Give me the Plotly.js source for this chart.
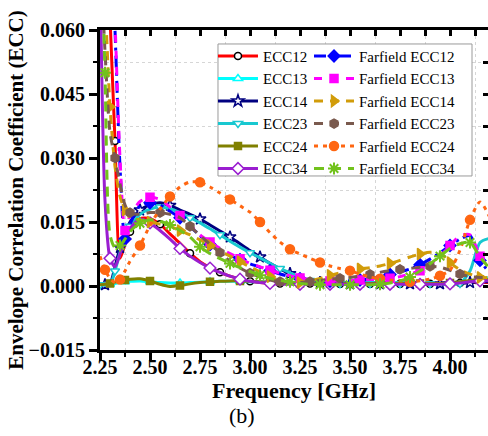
<!DOCTYPE html>
<html><head><meta charset="utf-8">
<script src="https://cdn.plot.ly/plotly-3.0.1.min.js"></script>
<style>html,body{margin:0;padding:0;background:#fff}#chart{width:488px;height:436px}</style>
</head><body><div id="chart"></div>
<script>
// ---- data ----
const freq = [2.25, 2.275, 2.30, 2.325, 2.35, 2.375, 2.40, 2.45, 2.50, 2.55, 2.60, 2.65, 2.70, 2.75, 2.80, 2.85, 2.90, 2.95, 3.00, 3.05, 3.10, 3.15, 3.20, 3.25, 3.30, 3.35, 3.40, 3.45, 3.50, 3.55, 3.60, 3.65, 3.70, 3.75, 3.80, 3.85, 3.90, 3.95, 4.00, 4.05, 4.10, 4.15, 4.20];

const ecc12 = [0.120, 0.095, 0.063, 0.034, 0.0065, 0.0098, 0.0127, 0.0158, 0.0158, 0.0145, 0.0122, 0.0100, 0.0077, 0.0057, 0.0043, 0.0032, 0.0023, 0.0016, 0.0011, 0.0008, 0.0007, 0.0006, 0.0006, 0.0006, 0.0006, 0.0005, 0.0005, 0.0005, 0.0005, 0.0005, 0.0005, 0.0005, 0.0005, 0.0005, 0.0005, 0.0005, 0.0005, 0.0006, 0.0006, 0.0007, 0.0008, 0.0008, 0.0008];
const ecc13 = [0.0003, 0.0003, 0.0004, 0.0006, 0.0008, 0.0010, 0.0011, 0.0012, 0.0010, 0.0008, 0.0007, 0.0007, 0.0008, 0.0009, 0.0010, 0.0011, 0.0011, 0.0011, 0.0010, 0.0010, 0.0009, 0.0008, 0.0008, 0.0007, 0.0007, 0.0006, 0.0006, 0.0006, 0.0006, 0.0006, 0.0006, 0.0006, 0.0006, 0.0006, 0.0006, 0.0006, 0.0006, 0.0006, 0.0006, 0.0007, 0.0010, 0.0015, 0.0020];
const ecc14 = [0.0004, 0.0003, 0.0005, 0.0045, 0.0090, 0.0125, 0.0150, 0.0178, 0.0190, 0.0195, 0.0189, 0.0178, 0.0168, 0.0157, 0.0143, 0.0129, 0.0115, 0.0099, 0.0083, 0.0068, 0.0053, 0.0040, 0.0029, 0.0019, 0.0012, 0.0008, 0.0006, 0.0005, 0.0005, 0.0005, 0.0005, 0.0005, 0.0005, 0.0005, 0.0005, 0.0005, 0.0005, 0.0005, 0.0005, 0.0006, 0.0008, 0.0010, 0.0010];
const ecc23 = [0.0003, 0.0002, 0.0002, 0.0035, 0.0078, 0.0112, 0.0140, 0.0168, 0.0180, 0.0185, 0.0181, 0.0172, 0.0160, 0.0148, 0.0134, 0.0120, 0.0105, 0.0091, 0.0078, 0.0066, 0.0053, 0.0041, 0.0031, 0.0021, 0.0013, 0.0008, 0.0006, 0.0005, 0.0005, 0.0005, 0.0005, 0.0005, 0.0005, 0.0005, 0.0005, 0.0005, 0.0005, 0.0005, 0.0005, 0.0006, 0.0035, 0.0102, 0.0112];
const ecc24 = [0.0003, 0.0004, 0.0006, 0.0009, 0.0012, 0.0014, 0.0016, 0.0017, 0.0012, 0.0004, -0.0001, 0.0001, 0.0005, 0.0008, 0.0010, 0.0011, 0.0012, 0.0012, 0.0011, 0.0010, 0.0009, 0.0008, 0.0007, 0.0006, 0.0006, 0.0006, 0.0006, 0.0006, 0.0006, 0.0006, 0.0006, 0.0006, 0.0006, 0.0006, 0.0006, 0.0006, 0.0006, 0.0006, 0.0007, 0.0010, 0.0013, 0.0015, 0.0015];
const ecc34 = [0.075, 0.020, 0.0065, 0.0045, 0.0075, 0.0110, 0.0135, 0.0157, 0.0148, 0.0130, 0.0110, 0.0088, 0.0070, 0.0055, 0.0042, 0.0032, 0.0023, 0.0016, 0.0011, 0.0008, 0.0006, 0.0004, 0.0004, 0.0004, 0.0004, 0.0004, 0.0004, 0.0004, 0.0004, 0.0004, 0.0004, 0.0004, 0.0004, 0.0004, 0.0004, 0.0004, 0.0004, 0.0004, 0.0005, 0.0007, 0.0010, 0.0012, 0.0012];

const ffEcc12 = [0.130, 0.115, 0.090, 0.060, 0.028, 0.011, 0.0145, 0.0188, 0.0195, 0.0190, 0.0175, 0.0160, 0.0140, 0.0118, 0.0097, 0.0083, 0.0072, 0.0062, 0.0052, 0.0044, 0.0036, 0.0028, 0.0022, 0.0017, 0.0014, 0.0012, 0.0011, 0.0011, 0.0012, 0.0014, 0.0017, 0.0021, 0.0027, 0.0033, 0.0040, 0.0050, 0.0063, 0.0078, 0.0095, 0.0110, 0.0118, 0.0060, 0.0030];
const ffEcc13 = [0.130, 0.115, 0.092, 0.062, 0.030, 0.013, 0.0165, 0.0198, 0.0208, 0.0203, 0.0185, 0.0165, 0.0143, 0.0120, 0.0103, 0.0088, 0.0076, 0.0064, 0.0053, 0.0045, 0.0037, 0.0030, 0.0024, 0.0019, 0.0015, 0.0013, 0.0012, 0.0012, 0.0013, 0.0014, 0.0015, 0.0016, 0.0018, 0.0022, 0.0028, 0.0036, 0.0050, 0.0069, 0.0095, 0.0118, 0.0120, 0.0070, 0.0040];
const ffEcc14 = [0.100, 0.068, 0.042, 0.028, 0.021, 0.0178, 0.0160, 0.0155, 0.0150, 0.0145, 0.0140, 0.0130, 0.0120, 0.0108, 0.0095, 0.0082, 0.0070, 0.0057, 0.0045, 0.0033, 0.0022, 0.0013, 0.0008, 0.0008, 0.0012, 0.0018, 0.0025, 0.0031, 0.0036, 0.0040, 0.0043, 0.0047, 0.0053, 0.0060, 0.0068, 0.0075, 0.0079, 0.0078, 0.0055, 0.0038, 0.0028, 0.0020, 0.0020];
const ffEcc23 = [0.080, 0.055, 0.036, 0.030, 0.024, 0.0190, 0.0172, 0.0168, 0.0172, 0.0172, 0.0168, 0.0160, 0.0140, 0.0118, 0.0098, 0.0078, 0.0058, 0.0042, 0.0030, 0.0021, 0.0014, 0.0010, 0.0008, 0.0008, 0.0010, 0.0013, 0.0016, 0.0018, 0.0020, 0.0023, 0.0027, 0.0032, 0.0036, 0.0039, 0.0041, 0.0044, 0.0046, 0.0044, 0.0037, 0.0028, 0.0022, 0.0020, 0.0020];
const ffEcc24 = [0.0070, 0.0038, 0.0018, 0.0008, 0.0015, 0.0035, 0.0058, 0.0095, 0.0142, 0.0180, 0.0210, 0.0232, 0.0244, 0.0243, 0.0232, 0.0218, 0.0203, 0.0188, 0.0173, 0.0150, 0.0125, 0.0103, 0.0086, 0.0075, 0.0065, 0.0055, 0.0047, 0.0041, 0.0036, 0.0028, 0.0021, 0.0017, 0.0014, 0.0012, 0.0010, 0.0012, 0.0016, 0.0024, 0.0037, 0.0084, 0.0155, 0.0197, 0.0160];
const ffEcc34 = [0.095, 0.050, 0.012, 0.0090, 0.0095, 0.0110, 0.0128, 0.0147, 0.0155, 0.0152, 0.0143, 0.0130, 0.0115, 0.0092, 0.0076, 0.0064, 0.0053, 0.0043, 0.0034, 0.0025, 0.0018, 0.0013, 0.0010, 0.0006, 0.0004, 0.0003, 0.0003, 0.0003, 0.0003, 0.0003, 0.0003, 0.0004, 0.0007, 0.0012, 0.0021, 0.0035, 0.0052, 0.0070, 0.0088, 0.0099, 0.0102, 0.0068, 0.0040];

const seriesNames = ['ECC12', 'ECC13', 'ECC14', 'ECC23', 'ECC24', 'ECC34',
  'Farfield ECC12', 'Farfield ECC13', 'Farfield ECC14', 'Farfield ECC23', 'Farfield ECC24', 'Farfield ECC34'];
const seriesValues = [ecc12, ecc13, ecc14, ecc23, ecc24, ecc34, ffEcc12, ffEcc13, ffEcc14, ffEcc23, ffEcc24, ffEcc34];

// ---- styles ----
const SERIF = 'Liberation Serif';
const styles = [
  {color: '#FF0000', dash: 'solid', symbol: 'circle', fill: '#FFFFFF', mline: '#000000', size: 7},
  {color: '#00FFFF', dash: 'solid', symbol: 'triangle-up', fill: '#FFFFFF', mline: '#00FFFF', size: 8},
  {color: '#000080', dash: 'solid', symbol: 'star', fill: '#FFFFFF', mline: '#000080', size: 9},
  {color: '#18C8D0', dash: 'solid', symbol: 'triangle-down', fill: '#FFFFFF', mline: '#18C8D0', size: 8},
  {color: '#808000', dash: 'solid', symbol: 'square', fill: '#808000', mline: '#808000', size: 7},
  {color: '#9A1ED0', dash: 'solid', symbol: 'diamond', fill: '#FFFFFF', mline: '#9A1ED0', size: 9},
  {color: '#0000FF', dash: '12px,5px,3px,5px', symbol: 'diamond', fill: '#0000FF', mline: '#0000FF', size: 9},
  {color: '#FF00FF', dash: '8px,8px', symbol: 'square', fill: '#FF00FF', mline: '#FF00FF', size: 8},
  {color: '#D19C0A', dash: '9px,7px', symbol: 'triangle-right', fill: '#D19C0A', mline: '#D19C0A', size: 10},
  {color: '#7A5A4E', dash: '9px,7px', symbol: 'hexagon', fill: '#7A5A4E', mline: '#7A5A4E', size: 9},
  {color: '#FF6611', dash: '4px,5px', symbol: 'circle', fill: '#FF6611', mline: '#FF6611', size: 9},
  {color: '#72C21C', dash: '10px,7px', symbol: 'asterisk-open', fill: '#72C21C', mline: '#72C21C', size: 10}
];

const traces = seriesNames.map((name, i) => {
  const s = styles[i];
  return {
    type: 'scatter', mode: 'lines+markers', name: name,
    x: freq, y: seriesValues[i],
    legend: i < 6 ? 'legend' : 'legend2',
    line: {color: s.color, width: 3, dash: s.dash, shape: 'spline', smoothing: 0.7},
    marker: {symbol: s.symbol, size: s.size, color: s.fill, maxdisplayed: 14,
             line: {color: s.mline, width: s.symbol === 'asterisk-open' ? 2 : 1.5}},
    hoverinfo: 'x+y+name'
  };
});
// helper traces (no data) binding the top / right tick axes
traces.push({type: 'scatter', x: [], y: [], xaxis: 'x2', yaxis: 'y', showlegend: false, hoverinfo: 'skip'});
traces.push({type: 'scatter', x: [], y: [], xaxis: 'x', yaxis: 'y2', showlegend: false, hoverinfo: 'skip'});

const xRange = [2.25, 4.19];
const yRange = [-0.015, 0.060];
const tickFont = {family: SERIF, size: 20, color: '#000', weight: 'bold'};

const layout = {
  width: 488, height: 436,
  margin: {l: 100, r: 0, t: 30, b: 86},
  paper_bgcolor: '#FFFFFF', plot_bgcolor: '#FFFFFF',
  font: {family: SERIF, color: '#000'},
  showlegend: true,
  xaxis: {
    range: xRange, tick0: 2.25, dtick: 0.25, tickformat: '.2f',
    ticks: 'outside', ticklen: 8, tickwidth: 2.5, tickcolor: '#000',
    showline: true, linewidth: 3, linecolor: '#000',
    showgrid: false, zeroline: false, tickfont: tickFont, ticklabelstandoff: -11,
    title: {text: 'Frequency [GHz]', font: {family: SERIF, size: 22, color: '#000', weight: 'bold'}, standoff: 0},
    minor: {tick0: 2.25, dtick: 0.125, ticks: 'outside', ticklen: 4, tickwidth: 2, tickcolor: '#000',
            showgrid: true, gridcolor: '#D6D6D6', griddash: 'dot', gridwidth: 1}
  },
  yaxis: {
    range: yRange, tick0: 0, dtick: 0.015, tickformat: '.3f',
    ticks: 'outside', ticklen: 8, tickwidth: 2.5, tickcolor: '#000',
    showline: true, linewidth: 3, linecolor: '#000',
    showgrid: false, zeroline: false, tickfont: tickFont,
    title: {text: 'Envelope Correlation Coefficient (ECC)', font: {family: SERIF, size: 21, color: '#000', weight: 'bold'}, standoff: 0},
    minor: {tick0: 0, dtick: 0.0075, ticks: 'outside', ticklen: 4, tickwidth: 2, tickcolor: '#000',
            showgrid: true, gridcolor: '#D6D6D6', griddash: 'dot', gridwidth: 1}
  },
  xaxis2: {
    overlaying: 'x', side: 'top', anchor: 'y', range: xRange, tick0: 2.25, dtick: 0.125,
    ticks: 'inside', ticklen: 6, tickwidth: 2.5, tickcolor: '#000', showticklabels: false,
    showline: true, linewidth: 3, linecolor: '#000', showgrid: false, zeroline: false
  },
  yaxis2: {
    overlaying: 'y', side: 'right', anchor: 'x', range: yRange, tick0: 0, dtick: 0.0075,
    ticks: 'inside', ticklen: 5, tickwidth: 2.5, tickcolor: '#000', showticklabels: false,
    showline: false, showgrid: false, zeroline: false
  },
  legend: {
    x: 0.2912, y: 0.9695, xanchor: 'left', yanchor: 'top',
    bgcolor: 'rgba(0,0,0,0)', borderwidth: 0, itemwidth: 40,
    font: {family: SERIF, size: 15, color: '#000'}, tracegroupgap: 0
  },
  legend2: {
    x: 0.5387, y: 0.9695, xanchor: 'left', yanchor: 'top',
    bgcolor: 'rgba(0,0,0,0)', borderwidth: 0, itemwidth: 40,
    font: {family: SERIF, size: 15, color: '#000'}, tracegroupgap: 0
  },
  shapes: [{
    type: 'rect', xref: 'paper', yref: 'paper', layer: 'above',
    x0: 0.3041, x1: 0.9588, y0: 0.5438, y1: 0.9563,
    fillcolor: '#FFFFFF', line: {color: '#9A9A9A', width: 1}
  }],
  annotations: [{
    text: '(b)', xref: 'paper', yref: 'paper', x: 0.366, y: -0.205,
    xanchor: 'center', yanchor: 'middle', showarrow: false,
    font: {family: SERIF, size: 22, color: '#000'}
  }]
};

Plotly.newPlot('chart', traces, layout, {displayModeBar: false, responsive: false});
</script>
</body></html>
